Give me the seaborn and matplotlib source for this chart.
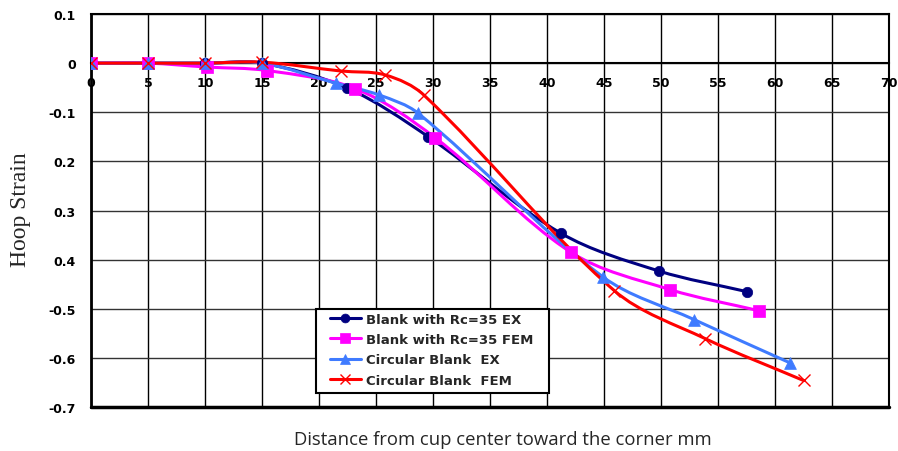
import numpy as np
import pandas as pd
import matplotlib
matplotlib.use("Agg")
import matplotlib.pyplot as plt
from matplotlib.path import Path
from matplotlib.patches import PathPatch, Rectangle
from matplotlib.lines import Line2D
from matplotlib.ticker import MultipleLocator, FixedLocator
import seaborn as sns

# ---- data ----
rc_ex_x = [0, 5, 10, 15, 22.5, 29.6, 41.2, 49.8, 57.5]
rc_ex_y = [0, 0, 0, 0, -0.051, -0.150, -0.346, -0.423, -0.465]

rc_fem_x = [0, 5, 10.2, 15.4, 23.2, 30.2, 42.1, 50.8, 58.6]
rc_fem_y = [0, 0, -0.008, -0.015, -0.052, -0.152, -0.385, -0.461, -0.504]

circ_ex_x = [0, 5, 10, 15, 21.5, 25.3, 28.7, 44.9, 52.9, 61.3]
circ_ex_y = [0, 0, 0, 0, -0.041, -0.065, -0.102, -0.435, -0.522, -0.610]

circ_fem_x = [0, 5, 10, 15, 21.9, 25.8, 29.2, 45.9, 53.9, 62.5]
circ_fem_y = [0, 0, 0, 0.002, -0.016, -0.024, -0.065, -0.463, -0.561, -0.646]

labels = ["Blank with Rc=35 EX", "Blank with Rc=35 FEM",
          "Circular Blank  EX", "Circular Blank  FEM"]
yticks = [0.1, 0, -0.1, -0.2, -0.3, -0.4, -0.5, -0.6, -0.7]
ytick_labels = ["0.1", "0", "-0.1", "0.2", "0.3", "0.4", "-0.5", "-0.6", "-0.7"]
xticks = list(range(0, 75, 5))

colors = ["#000080", "#FF00FF", "#3F7BFF", "#FF0000"]
markers = ["o", "s", "^", "x"]
msizes = [7.5, 8, 8.5, 9]

sns.set_style("white")
plt.rcParams['font.family'] = ['DejaVu Sans']

fig = plt.figure(figsize=(8.98, 4.52), dpi=100)
ax = fig.add_axes([0.1013, 0.0973, 0.8887, 0.8695])

YS = 43.2  # y scaling to make units comparable with x (pixel aspect)


def smooth_path(xs, ys, k=0.33):
    pts = np.column_stack([xs, np.array(ys) * YS]).astype(float)
    n = len(pts)
    tang = []
    for i in range(n):
        a = pts[i - 1] if i > 0 else pts[i]
        b = pts[i + 1] if i < n - 1 else pts[i]
        d = b - a
        nrm = np.hypot(*d)
        tang.append(d / nrm if nrm > 0 else d)
    verts = [pts[0]]
    codes = [Path.MOVETO]
    for i in range(n - 1):
        p1, p2 = pts[i], pts[i + 1]
        L = np.hypot(*(p2 - p1))
        c1 = p1 + tang[i] * L * k
        c2 = p2 - tang[i + 1] * L * k
        verts += [c1, c2, p2]
        codes += [Path.CURVE4] * 3
    v = np.array(verts)
    v[:, 1] /= YS
    return Path(v, codes)


series = [(rc_ex_x, rc_ex_y), (rc_fem_x, rc_fem_y),
          (circ_ex_x, circ_ex_y), (circ_fem_x, circ_fem_y)]

handles = []
for i, ((xs, ys), lab) in enumerate(zip(series, labels)):
    patch = PathPatch(smooth_path(xs, ys), facecolor='none', edgecolor=colors[i],
                      lw=2.2, zorder=3 + i * 0.1, transform=ax.transData)
    ax.add_patch(patch)
    df = pd.DataFrame({"x": xs, "y": ys})
    if markers[i] == "x":
        ax.plot(xs, ys, linestyle='none', marker='x', color=colors[i],
                markersize=msizes[i], markeredgewidth=1.0, zorder=5)
    else:
        sns.scatterplot(data=df, x="x", y="y", ax=ax, marker=markers[i],
                        color=colors[i], s=msizes[i] ** 2, edgecolor=colors[i],
                        linewidth=0.5, zorder=5, legend=False)
    handles.append(Line2D([], [], color=colors[i], lw=2.2, marker=markers[i],
                          markersize=msizes[i] * 0.85,
                          markeredgewidth=1.0 if markers[i] == 'x' else 0.5,
                          markerfacecolor=colors[i], markeredgecolor=colors[i]))

ax.set_xlim(0, 70)
ax.set_ylim(-0.7, 0.1)

# grid
ax.xaxis.set_major_locator(FixedLocator(xticks))
ax.yaxis.set_major_locator(FixedLocator(yticks))
ax.grid(True, axis='x', color='black', lw=1.0)
ax.grid(True, axis='y', color='#333333', lw=1.0)
ax.set_axisbelow(True)

# x axis at y = 0
ax.spines['bottom'].set_position(('data', 0))
ax.spines['bottom'].set_linewidth(1.5)
ax.spines['bottom'].set_zorder(2)
ax.xaxis.set_minor_locator(MultipleLocator(1))
ax.tick_params(axis='x', which='major', direction='inout', length=6, width=1.5,
               pad=6, labelsize=9, colors='black')
ax.tick_params(axis='x', which='minor', direction='inout', length=4, width=1.5)
ax.set_xticklabels([str(t) for t in xticks], fontweight='bold')

# frame
ax.axhline(-0.7, color='black', lw=2.5, clip_on=False, zorder=6)
ax.spines['left'].set_linewidth(2.0)
ax.spines['top'].set_linewidth(1.5)
ax.spines['right'].set_linewidth(1.5)
for s in ['left', 'top', 'right', 'bottom']:
    ax.spines[s].set_color('black')

ax.yaxis.set_minor_locator(MultipleLocator(0.02))
ax.tick_params(axis='y', which='major', direction='out', length=5, width=1.2,
               labelsize=9, pad=6, colors='black')
ax.tick_params(axis='y', which='minor', direction='out', length=3, width=1.0)
ax.set_yticklabels(ytick_labels, fontweight='bold')

ax.set_xlabel("")
ax.set_ylabel("")
fig.text(0.023, 0.535, "Hoop Strain", rotation=90, ha='center', va='center',
         fontsize=17, family=['Liberation Serif', 'DejaVu Serif'])
fig.text(0.56, 0.027, "Distance from cup center toward the corner mm",
         ha='center', va='center', fontsize=13.3, family=['Open Sans', 'DejaVu Sans'])

# legend box
ax.add_patch(Rectangle((0.282, 0.0356), 0.292, 0.2134, transform=ax.transAxes,
                       facecolor='white', edgecolor='black', lw=1.5, zorder=9,
                       clip_on=False))
leg = ax.legend(handles, labels, loc='upper left',
                bbox_to_anchor=(0.299, 0.240), bbox_transform=ax.transAxes,
                frameon=False, prop={'weight': 'bold', 'size': 9.5},
                handlelength=2.4, labelspacing=0.56, borderpad=0.0,
                borderaxespad=0.0, handletextpad=0.35)
leg.set_zorder(10)

fig.savefig("out.png", dpi=100)
